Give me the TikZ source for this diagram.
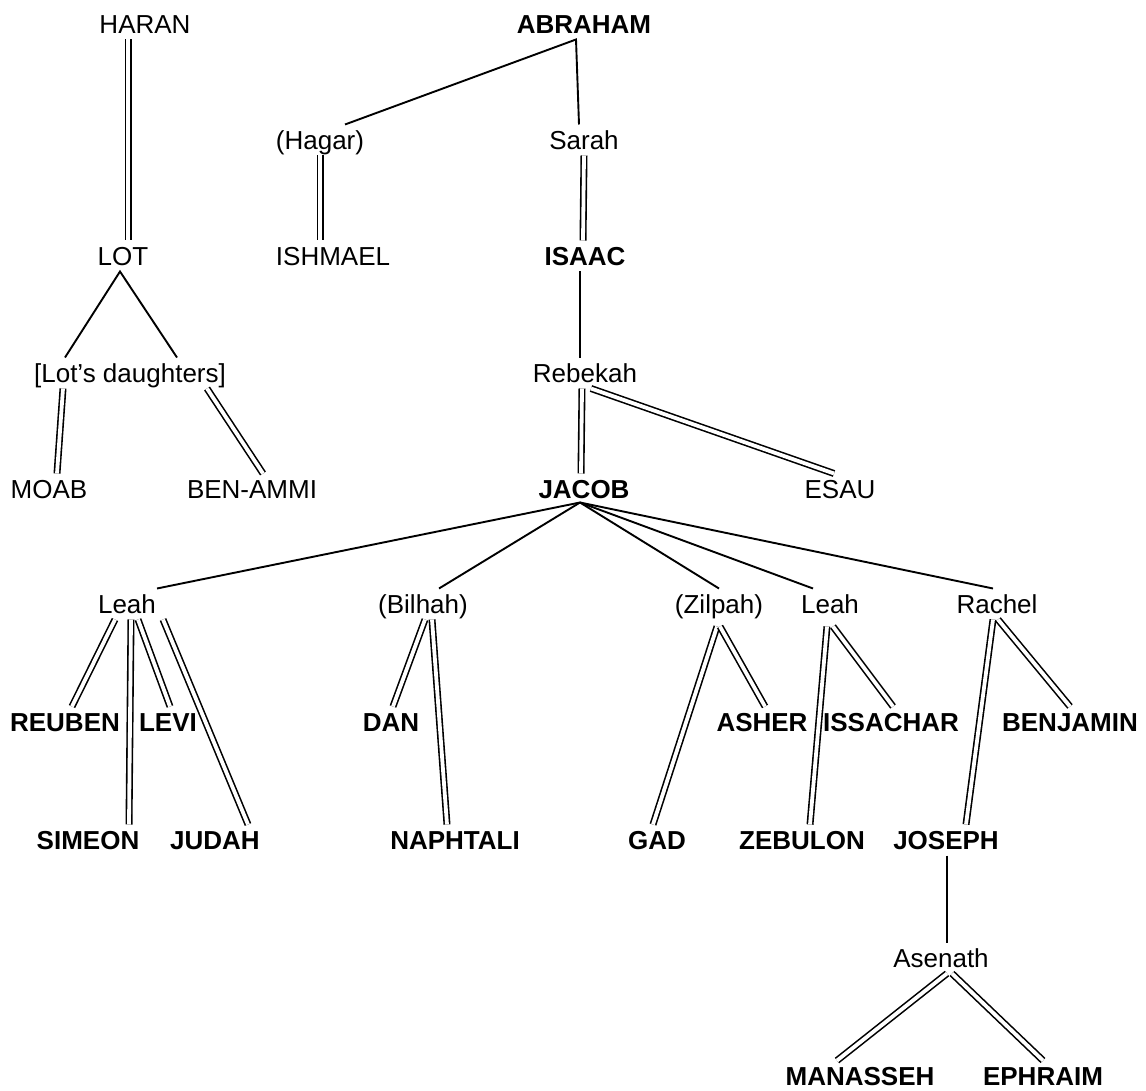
\documentclass[tikz,border=0pt]{standalone}
\usepackage{fontspec}
\setmainfont{Liberation Sans}
\usepackage{tikz}
\tikzstyle{person} = [inner xsep=0pt, inner ysep=6pt, text height=18.6pt, text depth=0pt, font=\fontsize{26}{30}\selectfont]
\tikzstyle{chosen} = [person, font=\fontsize{26}{30}\selectfont\bfseries]
\tikzstyle{link} = [line width=1.9pt]
\tikzstyle{descent} = [double, line width=1.6pt, double distance=3.8pt]

\begin{document}
\begin{tikzpicture}[x=1pt,y=-1pt]
\useasboundingbox (0,0) rectangle (1146,1091);
% Haran and Lot
\node[person] (haran) at (145,24) {HARAN};
\node[person] (lot) at (123,256) {LOT};
\node[person] (lotd) at (130,373) {{[Lot’s daughters]}};
\node[person] (moab) at (49,489) {MOAB};
\node[person] (benammi) at (252,489) {BEN-AMMI};
\draw[descent] ([xshift=-17pt]haran.south) -- ([xshift=5pt]lot.north);
\draw[link] ([xshift=47pt]lotd.north) -- ([xshift=-3pt]lot.south) -- ([xshift=-65pt]lotd.north);
\draw[descent] ([xshift=-67pt]lotd.south) -- ([xshift=8pt]moab.north);
\draw[descent] ([xshift=77pt]lotd.south) -- ([xshift=11pt]benammi.north);
% Abraham to Jacob
\node[chosen] (abraham) at (584,24) {ABRAHAM};
\node[person] (hagar) at (320,140) {(Hagar)};
\node[person] (sarah) at (584,140) {Sarah};
\node[person] (ishmael) at (333,256) {ISHMAEL};
\node[chosen] (isaac) at (585,256) {ISAAC};
\node[person] (rebekah) at (585,373) {Rebekah};
\node[chosen] (jacob) at (584,489) {JACOB};
\node[person] (esau) at (840,489) {ESAU};
\draw[link] ([xshift=25pt]hagar.north) -- ([xshift=-8pt]abraham.south) -- ([xshift=-5pt]sarah.north);
\draw[descent] (hagar.south) -- ([xshift=-13pt]ishmael.north);
\draw[descent] (sarah.south) -- ([xshift=-2pt]isaac.north);
\draw[link] ([xshift=-5pt]isaac.south) -- ([xshift=-5pt]rebekah.north);
\draw[descent] ([xshift=-3pt]rebekah.south) -- ([xshift=-3pt]jacob.north);
\draw[descent] ([xshift=6pt]rebekah.south) -- ([xshift=-6pt]esau.north);
% wives of Jacob
\node[person] (leah) at (127,604) {Leah};
\node[person] (bilhah) at (423,604) {(Bilhah)};
\node[person] (zilpah) at (719,604) {(Zilpah)};
\node[person] (leahb) at (830,604) {Leah};
\node[person] (rachel) at (997,604) {Rachel};
\foreach \wife/\dx in {leah/30, bilhah/16, zilpah/0, leahb/-17, rachel/-4}
  \draw[link] ([xshift=-4pt,yshift=2pt]jacob.south) -- ([xshift=\dx pt]\wife.north);
% the twelve sons
\node[chosen] (reuben) at (65,722) {REUBEN};
\node[chosen] (levi) at (168,722) {LEVI};
\node[chosen] (dan) at (391,722) {DAN};
\node[chosen] (asher) at (762,722) {ASHER};
\node[chosen] (issachar) at (891,722) {ISSACHAR};
\node[chosen] (benjamin) at (1070,722) {BENJAMIN};
\node[chosen] (simeon) at (88,840) {SIMEON};
\node[chosen] (judah) at (215,840) {JUDAH};
\node[chosen] (naphtali) at (455,840) {NAPHTALI};
\node[chosen] (gad) at (657,840) {GAD};
\node[chosen] (zebulon) at (802,840) {ZEBULON};
\node[chosen] (joseph) at (946,840) {JOSEPH};
\draw[descent] ([xshift=-12pt]leah.south) -- ([xshift=7pt]reuben.north);
\draw[descent] ([xshift=4pt]leah.south) -- ([xshift=41pt]simeon.north);
\draw[descent] ([xshift=11pt]leah.south) -- ([xshift=2pt]levi.north);
\draw[descent] ([xshift=36pt]leah.south) -- ([xshift=33pt]judah.north);
\draw[descent] ([xshift=2pt]bilhah.south) -- ([xshift=2pt]dan.north);
\draw[descent] ([xshift=9pt]bilhah.south) -- ([xshift=-8pt]naphtali.north);
\draw[descent] ([xshift=-2pt,yshift=-7pt]zilpah.south) -- ([xshift=-4pt]gad.north);
\draw[descent] ([xshift=1pt,yshift=-7pt]zilpah.south) -- ([xshift=3pt]asher.north);
\draw[descent] ([xshift=-3pt,yshift=-7pt]leahb.south) -- ([xshift=8pt]zebulon.north);
\draw[descent] ([xshift=3pt,yshift=-7pt]leahb.south) -- ([xshift=2pt]issachar.north);
\draw[descent] ([xshift=-4pt]rachel.south) -- ([xshift=20pt]joseph.north);
\draw[descent] ([xshift=1pt]rachel.south) -- (benjamin.north);
% Joseph and Asenath
\node[person] (asenath) at (941,958) {Asenath};
\node[chosen] (manasseh) at (860,1076) {MANASSEH};
\node[chosen] (ephraim) at (1043,1076) {EPHRAIM};
\draw[link] ([xshift=1pt]joseph.south) -- ([xshift=6pt]asenath.north);
\draw[descent] ([xshift=6pt]asenath.south) -- ([xshift=-23pt]manasseh.north);
\draw[descent] ([xshift=11pt]asenath.south) -- (ephraim.north);
\end{tikzpicture}
\end{document}
